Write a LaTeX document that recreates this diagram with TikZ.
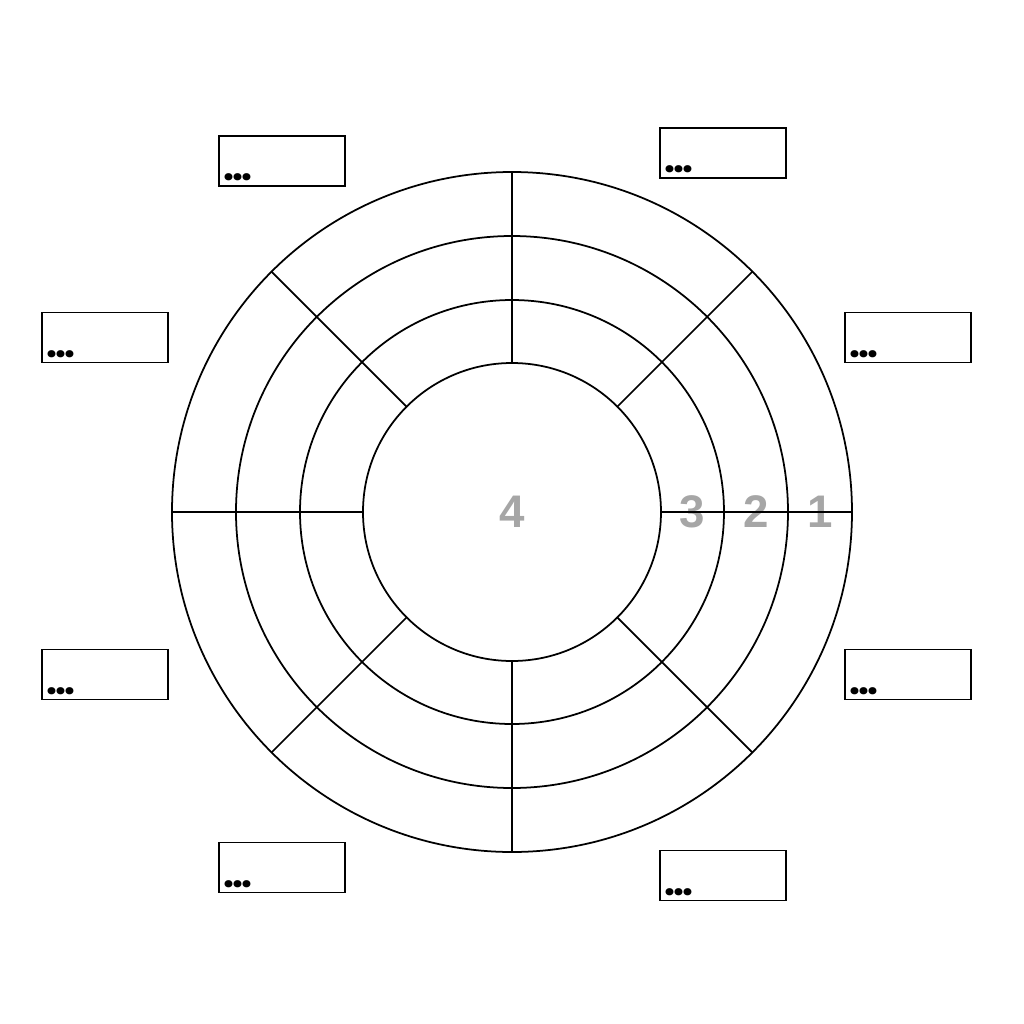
\documentclass[tikz,border=0pt]{standalone}
\usepackage{fontspec}
\setmainfont{Liberation Sans}
\newfontfamily\dotfont{Poppins}
\usetikzlibrary{positioning}
\definecolor{numgray}{HTML}{A6A6A6}
\tikzset{
	ring/.style={draw, circle, line width=0.5pt, inner sep=0pt, outer sep=0pt},
	spoke/.style={line width=0.5pt},
	notebox/.style={draw, line width=0.5pt, minimum width=1.26cm, minimum height=0.5cm, inner sep=0pt},
	num/.style={text=numgray, font=\fontsize{13}{13}\selectfont\bfseries, inner sep=0pt},
	dots/.style={font=\dotfont\fontsize{11}{11}\selectfont\bfseries, inner sep=0pt}
}
\begin{document}
\begin{tikzpicture}
	\useasboundingbox (-5.12,-5.12) rectangle (5.12,5.12);
	\node [num] (n4) at (0,0) {4};
	\foreach \r\lbl in {1.805/3,2.44/2,3.08/1} {
		\node [num] (n\lbl) at (\r, 0) {\lbl};
	}
	\foreach \d\k in {6.80/1,5.52/2,4.24/3,2.98/4} {
		\node (c\k) [ring, minimum size=\d cm] at (0,0) {};
	}
	\foreach \a in {0,45,...,315} {
		\draw [spoke] (c4.\a) -- (c1.\a);
	}
	\foreach \x\y\k in {-2.30/3.51/tl,2.11/3.59/tr,3.96/1.745/ru,-4.07/1.745/lu,-4.07/-1.625/ll,3.96/-1.625/rl,-2.30/-3.555/bl,2.11/-3.635/br} {
		\node (b\k) [notebox] at (\x, \y) {};
		\node (d\k) [dots, above right=0.05cm and 0.05cm of b\k.south west] {.\kern-0.6pt.\kern-0.6pt.};
	}
\end{tikzpicture}
\end{document}
